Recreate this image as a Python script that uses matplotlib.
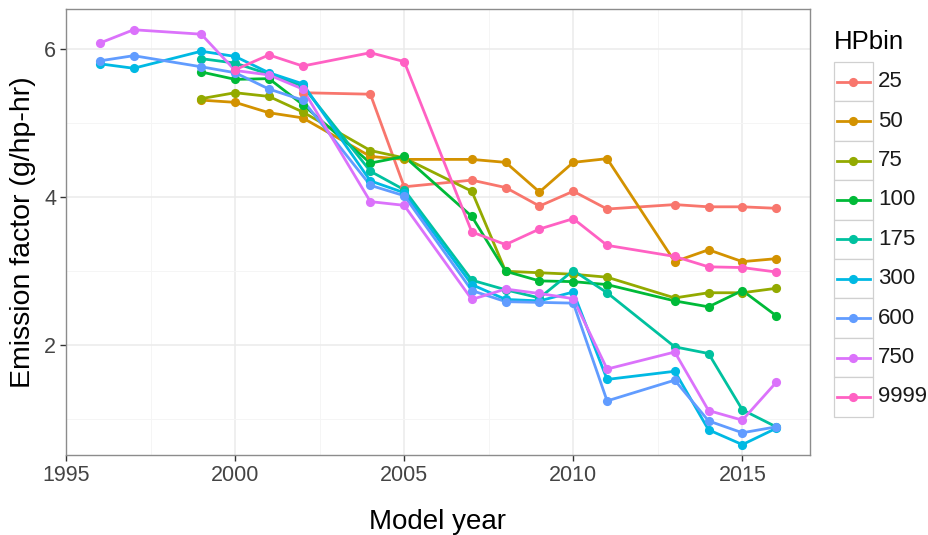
import numpy as np
import matplotlib
matplotlib.use("Agg")
import matplotlib.pyplot as plt
from matplotlib.patches import Rectangle
from matplotlib.lines import Line2D

plt.rcParams['font.family'] = ['Liberation Sans', 'DejaVu Sans']

# model years with data; None = no engines in that bin for the year
years = [1996, 1997, 1999, 2000, 2001, 2002, 2004, 2005, 2007, 2008,
         2009, 2010, 2011, 2013, 2014, 2015, 2016]

hp25 = [None, None, None, None, None, 5.41, 5.39, 4.14, 4.23, 4.13,
        3.88, 4.08, 3.84, 3.90, 3.87, 3.87, 3.85]
hp50 = [None, None, 5.31, 5.28, 5.14, 5.07, 4.55, 4.51, 4.51, 4.47,
        4.07, 4.47, 4.52, 3.13, 3.29, 3.13, 3.17]
hp75 = [None, None, 5.33, 5.41, 5.36, 5.15, 4.63, 4.53, 4.08, 3.00,
        2.98, 2.96, 2.92, 2.64, 2.71, 2.71, 2.77]
hp100 = [None, None, 5.69, 5.59, 5.60, 5.25, 4.46, 4.55, 3.74, 3.00,
         2.87, 2.86, 2.82, 2.60, 2.52, 2.74, 2.40]
hp175 = [None, None, 5.87, 5.81, 5.66, 5.50, 4.35, 4.10, 2.88, 2.75,
         2.64, 3.01, 2.71, 1.98, 1.89, 1.13, 0.90]
hp300 = [5.80, 5.74, 5.97, 5.90, 5.68, 5.53, 4.22, 4.06, 2.82, 2.62,
         2.60, 2.72, 1.54, 1.65, 0.86, 0.66, 0.88]
hp600 = [5.84, 5.91, 5.76, 5.68, 5.46, 5.31, 4.16, 4.02, 2.74, 2.59,
         2.58, 2.57, 1.25, 1.53, 0.98, 0.82, 0.90]
hp750 = [6.08, 6.26, 6.20, 5.71, 5.65, 5.46, 3.94, 3.89, 2.62, 2.76,
         2.70, 2.63, 1.68, 1.91, 1.12, 0.99, 1.50]
hp9999 = [None, None, None, 5.72, 5.92, 5.77, 5.95, 5.83, 3.53, 3.36,
          3.57, 3.71, 3.35, 3.20, 3.06, 3.05, 2.99]

bins = ['25', '50', '75', '100', '175', '300', '600', '750', '9999']
series = [hp25, hp50, hp75, hp100, hp175, hp300, hp600, hp750, hp9999]
colors = ['#F8766D', '#D39200', '#93AA00', '#00BA38', '#00C19F',
          '#00B9E3', '#619CFF', '#DB72FB', '#FF61C3']

W, H = 929, 535
fig = plt.figure(figsize=(W / 100, H / 100), dpi=100)
ax = fig.add_axes([66 / W, 1 - 455 / H, (810 - 66) / W, (455 - 9) / H])

# lines first, then all points on top
pts = []
for vals, c in zip(series, colors):
    x = np.array([yr for yr, v in zip(years, vals) if v is not None])
    y = np.array([v for v in vals if v is not None])
    ax.plot(x, y, color=c, lw=2.0, solid_capstyle='round', zorder=3)
    pts.append((x, y, c))
for x, y, c in pts:
    ax.plot(x, y, 'o', color=c, ms=6.6, mec='none', zorder=4)

ax.set_ylim(0.52, 6.54)
ax.set_xlim(1995, 2017)

ax.set_xticks([1995, 2000, 2005, 2010, 2015])
ax.set_xticks([1997.5, 2002.5, 2007.5, 2012.5], minor=True)
ax.set_yticks([2, 4, 6])
ax.set_yticks([1, 3, 5], minor=True)
ax.grid(which='major', color='#EBEBEB', lw=1.1, zorder=0)
ax.grid(which='minor', color='#F5F5F5', lw=0.7, zorder=0)
ax.set_axisbelow(True)
ax.tick_params(which='major', length=4, width=1, color='#333333',
               labelsize=15.5, labelcolor='#444444', pad=3)
ax.tick_params(which='minor', length=0)
for sp in ax.spines.values():
    sp.set_color('#8C8C8C')
    sp.set_linewidth(1.0)

ax.set_xlabel('Model year', fontsize=20, labelpad=17)
ax.set_ylabel('Emission factor (g/hp-hr)', fontsize=20.5, labelpad=6)

# legend drawn in pixel space
lax = fig.add_axes([0, 0, 1, 1])
lax.set_xlim(0, W)
lax.set_ylim(H, 0)
lax.axis('off')
lax.patch.set_visible(False)
lax.text(834, 42, 'HPbin', fontsize=18.5, va='center', ha='left')
key_top, key_h, key_x, key_w = 62, 39.4, 834, 39
for i, (lab, c) in enumerate(zip(bins, colors)):
    y0 = key_top + i * key_h
    lax.add_patch(Rectangle((key_x, y0), key_w, key_h, facecolor='white',
                            edgecolor='#D0D0D0', lw=0.9))
    cy = y0 + key_h / 2
    lax.add_line(Line2D([key_x + 3, key_x + key_w - 3], [cy, cy], color=c, lw=2.0))
    lax.plot(key_x + key_w / 2, cy, 'o', color=c, ms=6.6, mec='none')
    lax.text(key_x + key_w + 5, cy, lab, fontsize=16, va='center', ha='left',
             color='#1A1A1A')

fig.savefig('out.png', dpi=100)
